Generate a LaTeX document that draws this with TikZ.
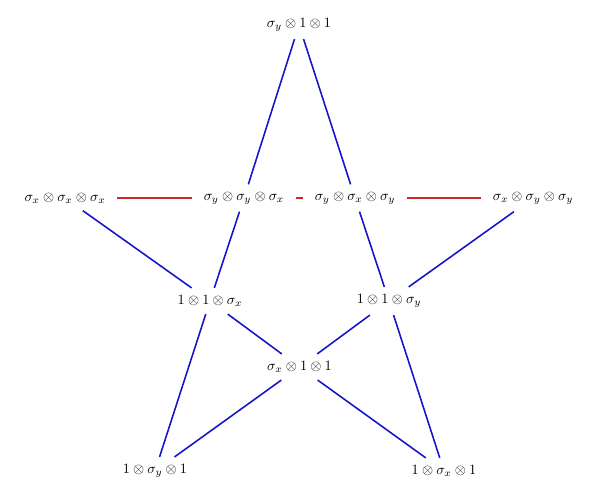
\documentclass[tikz,border=0pt]{standalone}
\usepackage{xcolor}
\definecolor{edgeblue}{RGB}{20,20,200}
\definecolor{edgered}{RGB}{205,40,40}
\begin{document}
\begin{tikzpicture}[x=0.7pt,y=-0.7pt,
  lab/.style={inner xsep=8pt, inner ysep=5pt},
  bl/.style={draw=edgeblue, line width=1.1pt},
  rd/.style={draw=edgered, line width=1.1pt}]
\useasboundingbox (0,0) rectangle (600,499);
\node[lab] (t)  at (299,25)  {$\sigma_y\otimes 1\otimes 1$};
\node[lab] (L)  at (65,198)  {$\sigma_x\otimes\sigma_x\otimes\sigma_x$};
\node[lab] (a)  at (244,198) {$\sigma_y\otimes\sigma_y\otimes\sigma_x$};
\node[lab] (b)  at (355,198) {$\sigma_y\otimes\sigma_x\otimes\sigma_y$};
\node[lab] (R)  at (533,198) {$\sigma_x\otimes\sigma_y\otimes\sigma_y$};
\node[lab] (c)  at (210,301) {$1\otimes 1\otimes\sigma_x$};
\node[lab] (d)  at (389,301) {$1\otimes 1\otimes\sigma_y$};
\node[lab] (m)  at (299.5,367) {$\sigma_x\otimes 1\otimes 1$};
\node[lab] (p)  at (155,471) {$1\otimes\sigma_y\otimes 1$};
\node[lab] (q)  at (444,471) {$1\otimes\sigma_x\otimes 1$};
% blue edges
\draw[bl] (t) -- (a);
\draw[bl] (a) -- (c);
\draw[bl] (c) -- (p);
\draw[bl] (t) -- (b);
\draw[bl] (b) -- (d);
\draw[bl] (d) -- (q);
\draw[bl] (L) -- (c);
\draw[bl] (c) -- (m);
\draw[bl] (m) -- (q);
\draw[bl] (R) -- (d);
\draw[bl] (d) -- (m);
\draw[bl] (m) -- (p);
% red edges
\draw[rd] (L) -- (a);
\draw[rd] (a) -- (b);
\draw[rd] (b) -- (R);
\end{tikzpicture}
\end{document}
